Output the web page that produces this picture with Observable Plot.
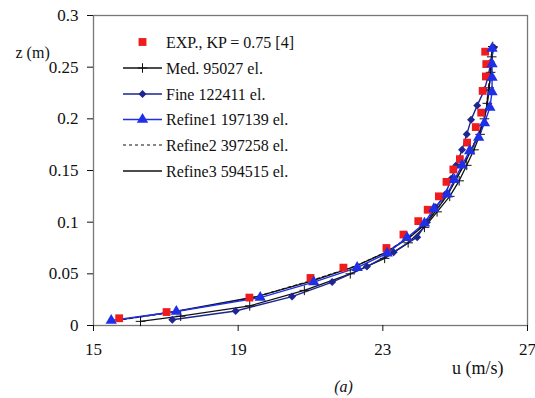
<!DOCTYPE html>
<html>
<head>
<meta charset="utf-8">
<script src="https://cdn.jsdelivr.net/npm/d3@7"></script>
<script src="https://cdn.jsdelivr.net/npm/@observablehq/plot@0.6"></script>
<style>
  html, body { margin: 0; padding: 0; background: #fff; }
  #chart { position: relative; width: 535px; height: 398px; }
  #chart svg, #chart svg text { font-family: "Liberation Serif", "Times New Roman", Times, serif !important; }
</style>
</head>
<body>
<div id="chart"></div>
<script>
// ---- data (u in m/s, z in m) ----
const expU = [15.71, 17.02, 19.31, 21.0, 21.91, 23.1, 23.57, 23.98, 24.24, 24.55, 24.76, 24.95, 25.13, 25.33, 25.57, 25.72, 25.76, 25.85, 25.86, 25.83];
const expZ = [0.007, 0.013, 0.027, 0.046, 0.056, 0.075, 0.088, 0.101, 0.112, 0.125, 0.139, 0.151, 0.161, 0.177, 0.192, 0.206, 0.227, 0.241, 0.253, 0.265];

const medU = [16.3, 17.41, 19.32, 20.83, 22.1, 23.05, 23.7, 24.15, 24.5, 24.85, 25.11, 25.32, 25.52, 25.69, 25.81, 25.89, 25.94, 25.98, 26.01, 26.04];
const medZ = [0.004, 0.009, 0.019, 0.034, 0.05, 0.065, 0.08, 0.095, 0.11, 0.125, 0.14, 0.155, 0.17, 0.185, 0.2, 0.215, 0.23, 0.245, 0.26, 0.27];

const fineU = [17.18, 18.93, 20.49, 21.6, 22.56, 23.3, 23.95, 24.22, 24.46, 24.73, 24.89, 25.03, 25.19, 25.32, 25.44, 25.61, 25.81, 25.91, 25.99, 26.07];
const fineZ = [0.0055, 0.014, 0.028, 0.042, 0.057, 0.071, 0.0855, 0.1, 0.1145, 0.127, 0.142, 0.155, 0.17, 0.185, 0.199, 0.213, 0.228, 0.241, 0.255, 0.269];

const ref1U = [15.49, 17.29, 19.61, 21.09, 22.29, 23.12, 23.67, 24.15, 24.41, 24.78, 24.98, 25.19, 25.4, 25.65, 25.81, 25.96, 26.02, 26.02, 26.02, 26.02];
const ref1Z = [0.0048, 0.0135, 0.027, 0.042, 0.056, 0.07, 0.085, 0.099, 0.113, 0.127, 0.141, 0.155, 0.169, 0.182, 0.196, 0.211, 0.226, 0.24, 0.253, 0.268];

const ref2U = [15.66, 17.12, 19.42, 20.98, 22.2, 23.08, 23.71, 24.2, 24.5, 24.79, 25.01, 25.23, 25.42, 25.62, 25.77, 25.86, 25.91, 25.96, 25.99, 26.01];
const ref2Z = [0.005, 0.0125, 0.027, 0.043, 0.057, 0.071, 0.085, 0.099, 0.113, 0.127, 0.141, 0.155, 0.169, 0.183, 0.197, 0.211, 0.226, 0.24, 0.254, 0.268];

const ref3U = [15.8, 17.22, 19.51, 21.03, 22.22, 23.1, 23.73, 24.21, 24.51, 24.8, 25.02, 25.24, 25.43, 25.63, 25.78, 25.87, 25.92, 25.97, 26.0, 26.02];
const ref3Z = [0.006, 0.0135, 0.028, 0.043, 0.057, 0.071, 0.085, 0.099, 0.113, 0.127, 0.141, 0.155, 0.169, 0.183, 0.197, 0.211, 0.226, 0.24, 0.254, 0.268];

const xTicks = [15, 19, 23, 27];
const yTicks = [0, 0.05, 0.1, 0.15, 0.2, 0.25, 0.3];
const yTickLabels = ["0", "0.05", "0.1", "0.15", "0.2", "0.25", "0.3"];

const legendLabels = ["EXP., KP = 0.75 [4]", "Med. 95027 el.", "Fine 122411 el.", "Refine1 197139 el.", "Refine2 397258 el.", "Refine3 594515 el."];

const toRows = (us, zs) => us.map((u, i) => ({u, z: zs[i]}));
const exp = toRows(expU, expZ);
const med = toRows(medU, medZ);
const fine = toRows(fineU, fineZ);
const ref1 = toRows(ref1U, ref1Z);
const ref2 = toRows(ref2U, ref2Z);
const ref3 = toRows(ref3U, ref3Z);

const RED = "#ee1c1c", NAVY = "#1c2590", BLUE = "#1f2fe8", BLACK = "#111";
const FONT = "Liberation Serif";

const plot = Plot.plot({
  width: 535,
  height: 398,
  marginLeft: 93,
  marginRight: 8,
  marginTop: 15,
  marginBottom: 73,
  style: {fontFamily: FONT, fontSize: "17px", color: "#111", background: "#fff", overflow: "visible"},
  x: {domain: [15, 27], ticks: xTicks},
  y: {domain: [0, 0.3], ticks: yTicks},
  marks: [
    Plot.frame({stroke: "#777", strokeWidth: 1.3}),
    Plot.axisX({ticks: xTicks, tickSize: 6, tickPadding: 11, label: null, fontSize: 17}),
    Plot.axisY({ticks: yTicks, tickSize: 6, tickPadding: 9, label: null, fontSize: 17,
      tickFormat: d => yTickLabels[yTicks.indexOf(d)]}),
    Plot.text(["z (m)"], {frameAnchor: "top-left", dx: -78, dy: 31, textAnchor: "start", fontSize: 16}),
    Plot.text(["u (m/s)"], {frameAnchor: "bottom-right", dx: -24, dy: 48, textAnchor: "end", fontSize: 18}),
    Plot.text(["(a)"], {frameAnchor: "bottom", dx: 33, dy: 66, fontSize: 16, fontStyle: "italic"}),
    // lines
    Plot.line(ref3, {x: "u", y: "z", stroke: BLACK, strokeWidth: 1.3}),
    Plot.line(ref2, {x: "u", y: "z", stroke: BLACK, strokeWidth: 1.2, strokeDasharray: "3,3"}),
    Plot.line(med, {x: "u", y: "z", stroke: BLACK, strokeWidth: 1.3}),
    Plot.line(fine, {x: "u", y: "z", stroke: NAVY, strokeWidth: 1.4}),
    Plot.line(ref1, {x: "u", y: "z", stroke: BLUE, strokeWidth: 1.4}),
    // markers
    Plot.dot(med, {x: "u", y: "z", symbol: "plus", r: 3.2, stroke: BLACK, strokeWidth: 1}),
    Plot.dot(fine, {x: "u", y: "z", symbol: "diamond2", r: 3.6, fill: NAVY, stroke: "none"}),
    Plot.dot(exp, {x: "u", y: "z", symbol: "square", r: 4.4, fill: RED, stroke: "none"}),
    Plot.dot(ref1, {x: "u", y: "z", symbol: "triangle", r: 4.2, fill: BLUE, stroke: "none"})
  ]
});

document.getElementById("chart").appendChild(plot);

// ---- legend (inside the plot area) ----
const svg = d3.select(plot);
const leg = svg.append("g").attr("font-size", 16).attr("fill", "#111").attr("text-anchor", "start");
const rowsY = [42, 68, 94, 119.5, 145, 171];
const x0 = 123, x1 = 162, xm = 142.5, xt = 166;
const sym = (type, size) => d3.symbol(type, size)();
legendLabels.forEach((label, i) => {
  const y = rowsY[i];
  const g = leg.append("g");
  if (i === 0) {
    g.append("path").attr("d", sym(d3.symbolSquare, 62)).attr("transform", `translate(${xm},${y})`).attr("fill", RED);
  } else if (i === 1) {
    g.append("line").attr("x1", x0).attr("x2", x1).attr("y1", y).attr("y2", y).attr("stroke", BLACK).attr("stroke-width", 1.3);
    g.append("path").attr("d", sym(d3.symbolPlus, 32)).attr("transform", `translate(${xm},${y})`).attr("fill", "none").attr("stroke", BLACK);
  } else if (i === 2) {
    g.append("line").attr("x1", x0).attr("x2", x1).attr("y1", y).attr("y2", y).attr("stroke", NAVY).attr("stroke-width", 1.4);
    g.append("path").attr("d", sym(d3.symbolDiamond2, 40)).attr("transform", `translate(${xm},${y})`).attr("fill", NAVY);
  } else if (i === 3) {
    g.append("line").attr("x1", x0).attr("x2", x1).attr("y1", y).attr("y2", y).attr("stroke", BLUE).attr("stroke-width", 1.4);
    g.append("path").attr("d", sym(d3.symbolTriangle, 56)).attr("transform", `translate(${xm},${y})`).attr("fill", BLUE);
  } else if (i === 4) {
    g.append("line").attr("x1", x0).attr("x2", x1).attr("y1", y).attr("y2", y).attr("stroke", BLACK).attr("stroke-width", 1.2).attr("stroke-dasharray", "3,3");
  } else {
    g.append("line").attr("x1", x0).attr("x2", x1).attr("y1", y).attr("y2", y).attr("stroke", BLACK).attr("stroke-width", 1.3);
  }
  g.append("text").attr("x", xt).attr("y", y).attr("dy", "0.35em").text(label);
});
</script>
</body>
</html>
